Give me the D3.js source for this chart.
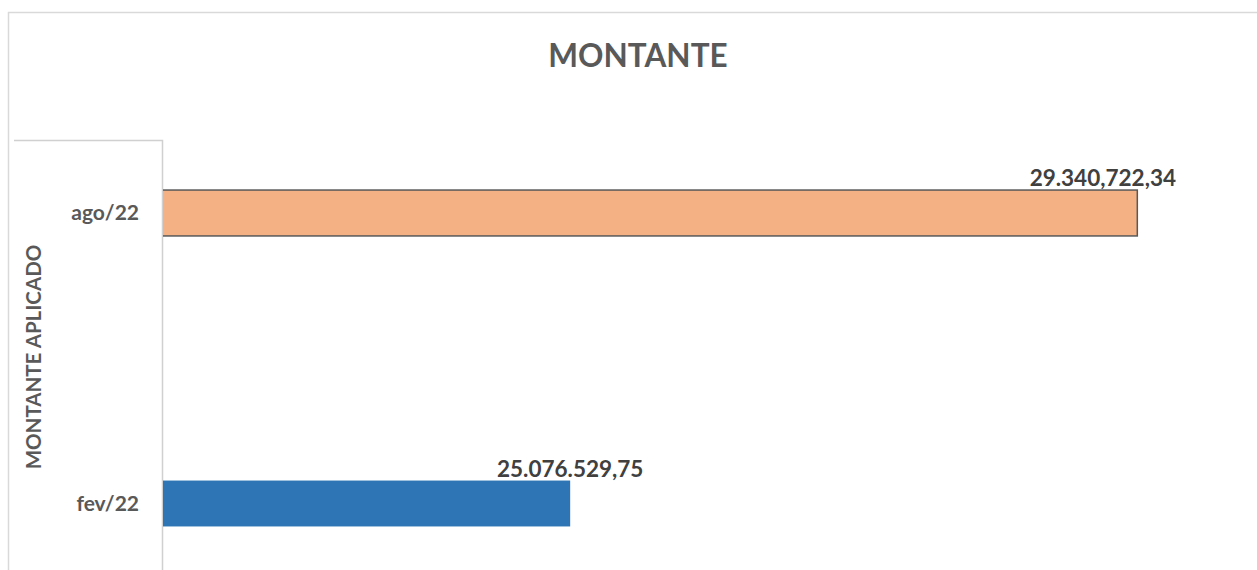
<!DOCTYPE html>
<html><head><meta charset="utf-8">
<script src="https://cdn.jsdelivr.net/npm/d3@7"></script>
<style>html,body{margin:0;padding:0;background:#fff;overflow:hidden}</style>
</head><body>
<svg id="c" width="1257" height="570"></svg>
<script>
const categories = ["ago/22", "fev/22"];
const values = [29340722.34, 25076529.75];
const labels = ["29.340,722,34", "25.076.529,75"];
const colors = ["#F4B183", "#2E75B6"];
const xDomain = [22000000, 30000000];
const titleText = "MONTANTE";
const yTitle = "MONTANTE APLICADO";

const svg = d3.select("#c");
const font = "Lato, 'Open Sans', sans-serif";

// outer frame
svg.append("rect").attr("x", 8.5).attr("y", 12.5).attr("width", 1260).attr("height", 600)
  .attr("fill", "none").attr("stroke", "#d9d9d9").attr("stroke-width", 1.5);

const x = d3.scaleLinear().domain(xDomain).range([161, 1225]);
const y = d3.scaleBand().domain(categories).range([67.75, 648.75]).paddingInner(0.842).paddingOuter(0.421);
const labelMaxRight = 1176;

svg.append("defs").append("clipPath").attr("id", "pc")
  .append("rect").attr("x", 163).attr("y", 140).attr("width", 1100).attr("height", 440);

// title
svg.append("text").attr("x", 638).attr("y", 67).attr("text-anchor", "middle")
  .attr("font-family", font).attr("font-weight", "bold").attr("font-size", 31.5)
  .attr("fill", "#595959").text(titleText);

// inner axis box
svg.append("path").attr("d", "M14,140.5H162.5V580").attr("fill", "none")
  .attr("stroke", "#d0d0d0").attr("stroke-width", 1.5);

// bars
const g = svg.append("g").attr("clip-path", "url(#pc)");
g.selectAll("rect.bar").data(categories).join("rect").attr("class", "bar")
  .attr("x", x(xDomain[0]))
  .attr("y", d => y(d))
  .attr("width", (d, i) => x(values[i]) - x(xDomain[0]))
  .attr("height", y.bandwidth())
  .attr("fill", (d, i) => colors[i])
  .attr("stroke", (d, i) => i === 0 ? "#595959" : "none")
  .attr("stroke-width", 1.5);

// value labels (centered on bar end, kept inside the plot area)
svg.selectAll("text.val").data(categories).join("text").attr("class", "val")
  .attr("y", d => y(d) - 4)
  .attr("text-anchor", "middle")
  .attr("font-family", font).attr("font-weight", "bold").attr("font-size", 22.5)
  .attr("fill", "#404040")
  .text((d, i) => labels[i])
  .each(function(d, i) {
    const w = this.getComputedTextLength();
    const cx = Math.min(x(values[i]), labelMaxRight - w / 2);
    d3.select(this).attr("x", cx);
  });

// category labels
svg.selectAll("text.cat").data(categories).join("text").attr("class", "cat")
  .attr("x", 139).attr("y", d => y(d) + y.bandwidth() / 2)
  .attr("dy", "0.35em").attr("text-anchor", "end")
  .attr("font-family", font).attr("font-weight", "bold").attr("font-size", 21)
  .attr("fill", "#595959").text(d => d);

// y title
svg.append("text").attr("transform", "translate(41,357) rotate(-90)")
  .attr("text-anchor", "middle")
  .attr("font-family", font).attr("font-weight", "bold").attr("font-size", 20.5)
  .attr("fill", "#595959").text(yTitle);
</script>
</body></html>
